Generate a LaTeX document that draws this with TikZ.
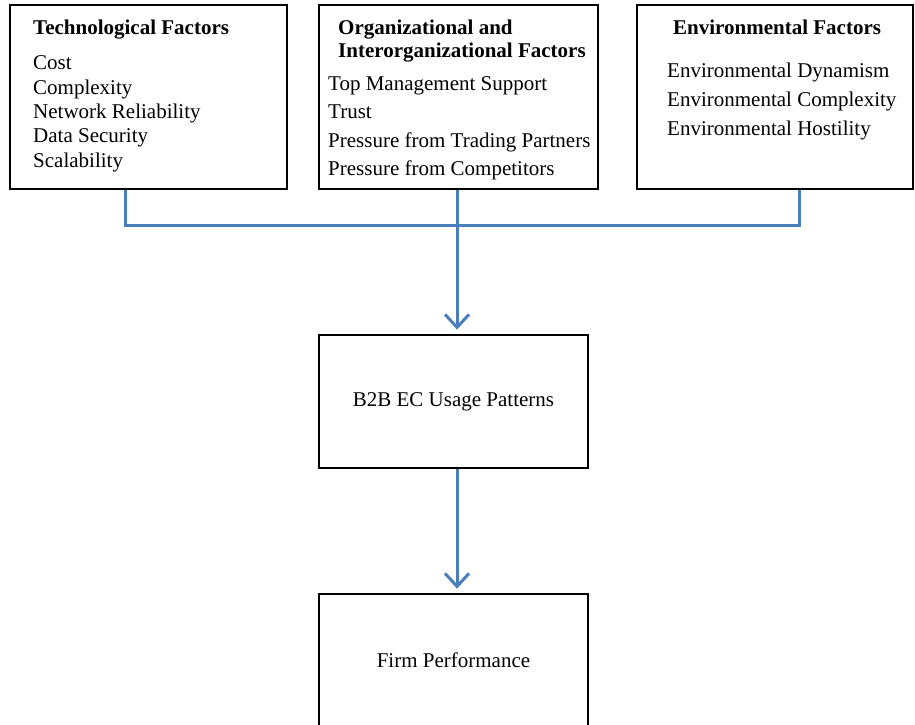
\documentclass[tikz,border=0pt]{standalone}
\usepackage{fontspec}
\setmainfont{Liberation Serif}
\usepackage{tikz}
\usetikzlibrary{arrows.meta,positioning,calc}
\definecolor{link}{HTML}{4A7EBB}
\tikzset{
  >={Straight Barb[length=13pt,width=24pt,line width=3pt]},
  fbox/.style={draw=black,line width=2.8pt,fill=white,inner sep=0pt},
  ttl/.style={font=\fontsize{21}{25}\selectfont\bfseries,anchor=base west,inner sep=0pt},
  item/.style={anchor=base west,inner sep=0pt},
  conn/.style={draw=link,line width=3pt},
  arr/.style={conn,->,shorten >=4pt},
}

\begin{document}
\begin{tikzpicture}[x=1pt,y=-1pt,every node/.style={font=\fontsize{21}{25}\selectfont}]
\useasboundingbox (0,0) rectangle (915,725);
% factor boxes
\node[fbox,minimum width=277,minimum height=184] (tech) at (148.5,97) {};
\node[fbox,minimum width=279,minimum height=184] (org) at (458.5,97) {};
\node[fbox,minimum width=276,minimum height=184] (env) at (775,97) {};
% outcome boxes
\node[fbox,minimum width=269,minimum height=133] (b2b) at (453.5,401.5) {B2B EC Usage Patterns};
\node[fbox,minimum width=269,minimum height=133] (firm) at (453.5,660.5) {Firm Performance};

% box texts
\node[ttl] (tech-t) at (33,35) {Technological Factors};
\foreach \t [count=\i] in {Cost,Complexity,Network Reliability,Data Security,Scalability}
  \node[item] (tech-\i) at (33,{70+24.3*(\i-1)}) {\t};
\node[ttl] (org-t1) at (338,35) {Organizational and};
\node[ttl] (org-t2) at (338,58) {Interorganizational Factors};
\foreach \t [count=\i] in {Top Management Support,Trust,Pressure from Trading Partners,Pressure from Competitors}
  \node[item] (org-\i) at (328,{90+28.5*(\i-1)}) {\t};
\node[ttl] (env-t) at (673,35) {Environmental Factors};
\foreach \t [count=\i] in {Environmental Dynamism,Environmental Complexity,Environmental Hostility}
  \node[item] (env-\i) at (667,{77.5+29*(\i-1)}) {\t};

% connectors
\coordinate (j1) at (125,225);
\coordinate (jn) at (457,225);
\coordinate (j3) at (799,225);
\draw[conn] (tech.south -| j1) -- (j1) -- (j3) -- (env.south -| j3);
\draw[arr] (org.south -| jn) -- (b2b.north -| jn);
\draw[arr] (b2b.south -| jn) -- (firm.north -| jn);
\end{tikzpicture}
\end{document}
